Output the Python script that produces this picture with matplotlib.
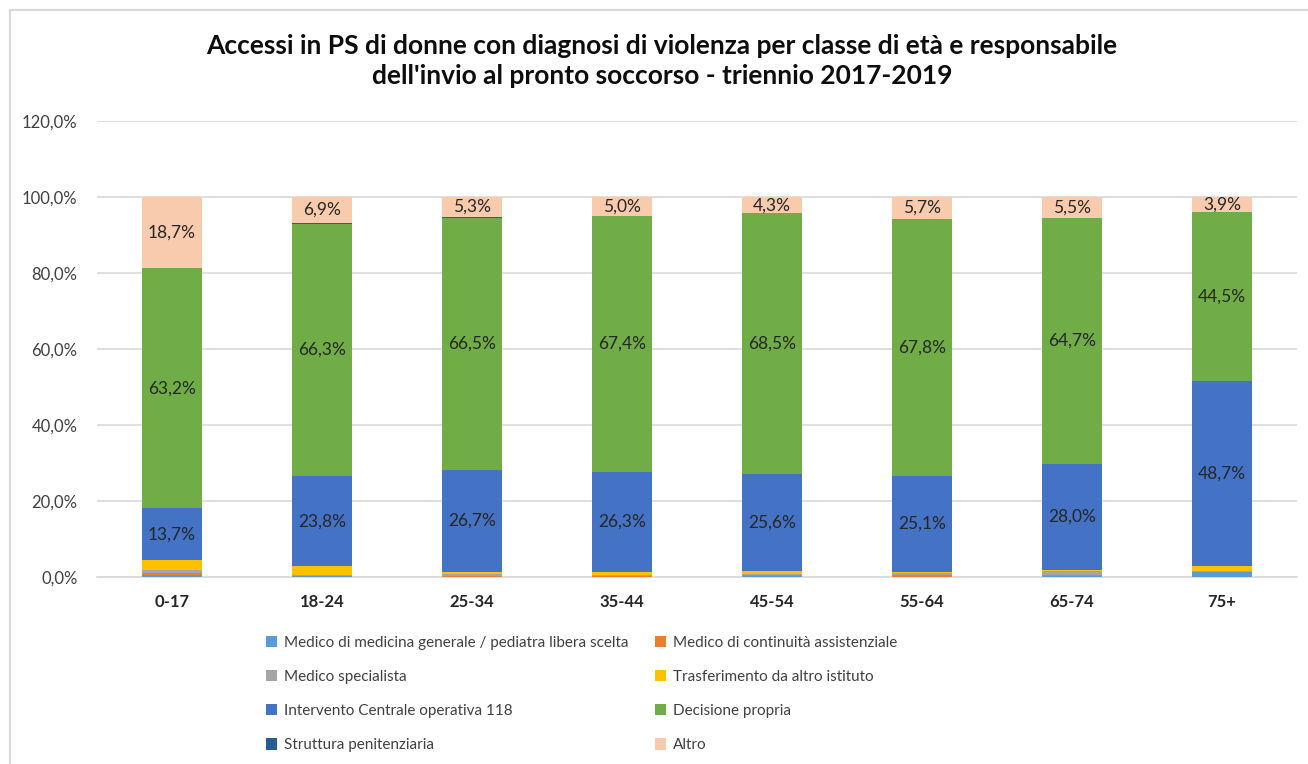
import numpy as np
import matplotlib.pyplot as plt
from matplotlib.patches import Rectangle

plt.rcParams['font.family'] = ['Lato', 'DejaVu Sans']

categories = ['0-17', '18-24', '25-34', '35-44', '45-54', '55-64', '65-74', '75+']

series_names = [
    'Medico di medicina generale / pediatra libera scelta',
    'Medico di continuità assistenziale',
    'Medico specialista',
    'Trasferimento da altro istituto',
    'Intervento Centrale operativa 118',
    'Decisione propria',
    'Struttura penitenziaria',
    'Altro',
]

medico_generale = [0.6, 0.2, 0.1, 0.1, 0.2, 0.1, 0.3, 1.3]
continuita = [0.5, 0.1, 0.2, 0.1, 0.2, 0.5, 0.1, 0.1]
specialista = [0.8, 0.3, 0.4, 0.3, 0.3, 0.5, 1.2, 0.2]
trasferimento = [2.5, 2.2, 0.7, 0.8, 0.9, 0.3, 0.2, 1.3]
intervento_118 = [13.7, 23.8, 26.7, 26.3, 25.6, 25.1, 28.0, 48.7]
decisione = [63.2, 66.3, 66.5, 67.4, 68.5, 67.8, 64.7, 44.5]
penitenziaria = [0.0, 0.2, 0.1, 0.0, 0.0, 0.0, 0.0, 0.0]
altro = [18.7, 6.9, 5.3, 5.0, 4.3, 5.7, 5.5, 3.9]

all_series = [medico_generale, continuita, specialista, trasferimento,
              intervento_118, decisione, penitenziaria, altro]
colors = ['#5B9BD5', '#ED7D31', '#A5A5A5', '#FFC000',
          '#4472C4', '#70AD47', '#255E91', '#F8CBAD']
labelled = [4, 5, 7]

W, H = 1308, 764
fig = plt.figure(figsize=(W / 100, H / 100), dpi=100)
ax = fig.add_axes([97 / W, 1 - 577 / H, 1200 / W, 456 / H])

# chart area frame
fig.patches.append(Rectangle((10 / W, -0.1), 1.2, 1 - 10 / H + 0.1,
                             transform=fig.transFigure, fill=False,
                             edgecolor='#D9D9D9', linewidth=1.5))

x = np.arange(len(categories))
bottom = np.zeros(len(categories))
bars = []
for i, (vals, col) in enumerate(zip(all_series, colors)):
    vals = np.array(vals)
    b = ax.bar(x, vals, 0.4, bottom=bottom, color=col, label=series_names[i],
               zorder=3)
    bars.append(b)
    if i in labelled:
        for xi, v, b0 in zip(x, vals, bottom):
            ax.text(xi, b0 + v / 2, f'{v:.1f}'.replace('.', ',') + '%',
                    ha='center', va='center', fontsize=12.5, color='#262626',
                    zorder=4)
    bottom += vals

ax.set_xlim(-0.5, len(categories) - 0.5)
ax.set_ylim(0, 120)
yt = np.arange(0, 121, 20)
ax.set_yticks(yt)
ax.set_yticklabels([f'{v:.1f}'.replace('.', ',') + '%' for v in yt],
                   fontsize=12, color='#404040')
ax.set_xticks(x)
ax.set_xticklabels(categories, fontsize=12, fontweight='bold', color='#262626')
ax.tick_params(length=0)
ax.tick_params(axis='x', pad=12)
ax.tick_params(axis='y', pad=14)
ax.grid(axis='y', color='#D9D9D9', linewidth=1.2, zorder=0)
for s in ['top', 'right', 'left']:
    ax.spines[s].set_visible(False)
ax.spines['bottom'].set_color('#D9D9D9')
ax.spines['bottom'].set_linewidth(1.2)

fig.text(662 / W, 1 - 61 / H,
         "Accessi in PS di donne con diagnosi di violenza per classe di età e responsabile\n"
         "dell'invio al pronto soccorso - triennio 2017-2019",
         ha='center', va='center', fontsize=19, fontweight='bold',
         color='#0D0D0D', linespacing=1.35)

order = [0, 2, 4, 6, 1, 3, 5, 7]
handles = [bars[i] for i in order]
labels = [series_names[i] for i in order]
fig.legend(handles, labels, ncol=2, loc='upper left',
           bbox_to_anchor=(252 / W, 1 - 622 / H), frameon=False,
           fontsize=11, handlelength=0.75, handleheight=0.75, handletextpad=0.45,
           columnspacing=1.7, labelspacing=1.32, labelcolor='#404040')

fig.savefig('out.png', dpi=100)
